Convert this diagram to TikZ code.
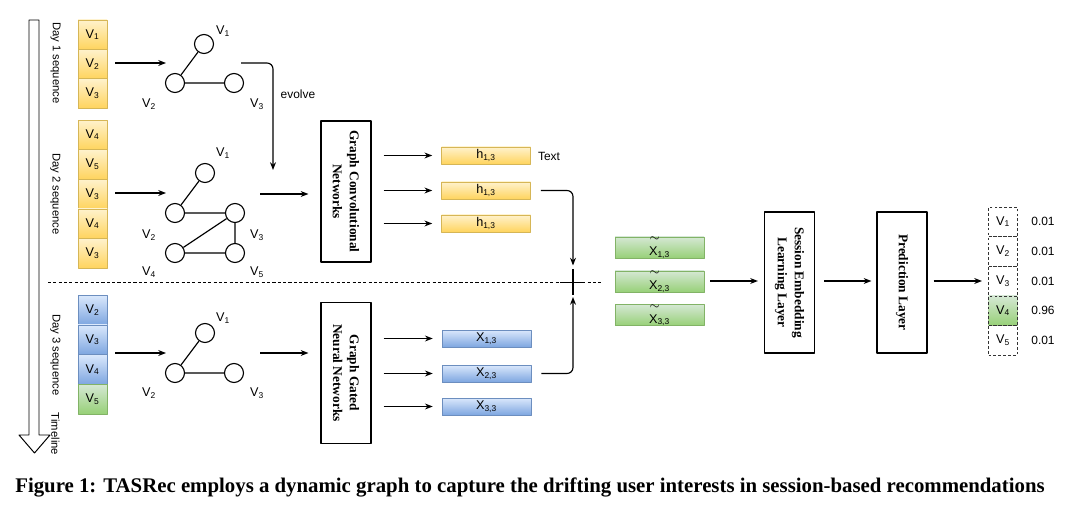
\documentclass[tikz,border=0pt]{standalone}
\usepackage{fontspec}
\setmainfont{Liberation Sans}
\newfontfamily\capfont{Liberation Serif}
\usepackage{xcolor}
\usepackage{tikz}
\usetikzlibrary{arrows.meta,calc}

\newdimen\pxu \pxu=0.025cm
\definecolor{yelT}{HTML}{FFF2CC}
\definecolor{yelB}{HTML}{FFD45E}
\definecolor{yelD}{HTML}{D6B656}
\definecolor{bluT}{HTML}{DAE8FC}
\definecolor{bluB}{HTML}{7EA6E0}
\definecolor{bluD}{HTML}{6C8EBF}
\definecolor{grnT}{HTML}{D5E8D4}
\definecolor{grnB}{HTML}{97D077}
\definecolor{grnD}{HTML}{82B366}
\newcommand{\vv}[1]{V\textsubscript{#1}}
\newcommand{\hh}[1]{h\textsubscript{#1}}
\newcommand{\xx}[1]{X\textsubscript{#1}}
\newcommand{\tx}[1]{\makebox[0pt][l]{\hspace{0.4pt}\raisebox{10pt}{$\sim$}}X\textsubscript{#1}}

\begin{document}
\begin{tikzpicture}[x=0.025cm, y=-0.025cm, >={Stealth[length=5.5pt,width=4.2pt]}, line join=round,
  conn/.style={->, line width=0.8pt},
  cell/.style={draw, minimum width=29\pxu, minimum height=29.5\pxu, inner sep=0pt, font=\fontsize{9}{10}\selectfont},
  ycell/.style={cell, draw=yelD, top color=yelT, bottom color=yelB},
  bcell/.style={cell, draw=bluD, top color=bluT, bottom color=bluB},
  gcell/.style={cell, draw=grnD, top color=grnT, bottom color=grnB},
  ocell/.style={cell, draw=black!80, dash pattern=on 2pt off 1.5pt, minimum height=29.6\pxu},
  bar/.style={draw, minimum width=89\pxu, minimum height=17\pxu, inner sep=0pt, font=\fontsize{9}{10}\selectfont},
  vtx/.style={circle, draw, line width=0.8pt, minimum size=19\pxu, inner sep=0pt},
  vlab/.style={font=\fontsize{9}{10}\selectfont},
  small/.style={font=\fontsize{8.5}{10}\selectfont},
  daylab/.style={rotate=-90, font=\fontsize{8}{9}\selectfont},
  layer/.style={draw, line width=0.8pt, rotate=-90, minimum width=141\pxu, minimum height=50\pxu, align=center, font=\capfont\bfseries\fontsize{9.5}{12}\selectfont}]
  \useasboundingbox (0,0) rectangle (1080,505);

  % timeline
  \draw[line width=0.7pt] (29,20) -- (39,20) -- (39,435) -- (50,435) -- (34.5,453) -- (19,435) -- (29,435) -- cycle;
  \node[daylab] (d1) at (55.5,63) {Day 1 sequence};
  \node[daylab] (d2) at (55.5,194) {Day 2 sequence};
  \node[daylab] (d3) at (55.5,355) {Day 3 sequence};
  \node[daylab] (tl) at (55.5,434) {Timeline};

  % sequences
  \node[ycell] (s1a) at (92.5,34.7) {\vv{1}};
  \node[ycell] (s1b) at (92.5,64) {\vv{2}};
  \node[ycell] (s1c) at (92.5,93.3) {\vv{3}};
  \node[ycell] (s2a) at (92.5,134.8) {\vv{4}};
  \node[ycell] (s2b) at (92.5,164.4) {\vv{5}};
  \node[ycell] (s2c) at (92.5,194) {\vv{3}};
  \node[ycell] (s2d) at (92.5,223.6) {\vv{4}};
  \node[ycell] (s2e) at (92.5,253.2) {\vv{3}};
  \node[bcell] (s3a) at (92.5,309.9) {\vv{2}};
  \node[bcell] (s3b) at (92.5,339.6) {\vv{3}};
  \node[bcell] (s3c) at (92.5,369.4) {\vv{4}};
  \node[gcell] (s3d) at (92.5,399.1) {\vv{5}};

  % graphs
  \node[vtx] (g1a) at (204,44) {};
  \node[vtx] (g1b) at (175,83) {};
  \node[vtx] (g1c) at (234,83) {};
  \draw[line width=0.8pt] (g1a) -- (g1b) -- (g1c);
  \node[vlab] (l1a) at (223,31) {\vv{1}};
  \node[vlab] (l1b) at (149,104) {\vv{2}};
  \node[vlab] (l1c) at (257,104) {\vv{3}};

  \node[vtx] (g2a) at (205,173) {};
  \node[vtx] (g2b) at (175,213) {};
  \node[vtx] (g2c) at (235,213) {};
  \node[vtx] (g2d) at (175,253) {};
  \node[vtx] (g2e) at (235,253) {};
  \draw[line width=0.8pt] (g2a) -- (g2b) -- (g2c) -- (g2d) -- (g2e) -- (g2c);
  \node[vlab] (l2a) at (223,153) {\vv{1}};
  \node[vlab] (l2b) at (149,235) {\vv{2}};
  \node[vlab] (l2c) at (257,235) {\vv{3}};
  \node[vlab] (l2d) at (149,272) {\vv{4}};
  \node[vlab] (l2e) at (257,272) {\vv{5}};

  \node[vtx] (g3a) at (205,333) {};
  \node[vtx] (g3b) at (175,373) {};
  \node[vtx] (g3c) at (234,373) {};
  \draw[line width=0.8pt] (g3a) -- (g3b) -- (g3c);
  \node[vlab] (l3a) at (223,318) {\vv{1}};
  \node[vlab] (l3b) at (149,393) {\vv{2}};
  \node[vlab] (l3c) at (257,393) {\vv{3}};

  % sequence -> graph
  \coordinate (q1s) at (115,63);  \coordinate (q1e) at (166,63);
  \coordinate (q2s) at (115,193); \coordinate (q2e) at (166,193);
  \coordinate (q3s) at (115,353); \coordinate (q3e) at (166,353);
  \draw[conn] (q1s) -- (q1e);
  \draw[conn] (q2s) -- (q2e);
  \draw[conn] (q3s) -- (q3e);

  % evolve
  \coordinate (ev0) at (241,63);
  \coordinate (ev1) at (273,170);
  \draw[conn, rounded corners=6\pxu] (ev0) -- (ev0 -| ev1) -- (ev1);
  \node[small] (evl) at (298,94) {evolve};

  % layers (rotated: north is the right side, south the left side)
  \node[layer] (gcn) at (346,191.5) {Graph Convolutional\\Networks};
  \node[layer] (ggnn) at (346,373) {Graph Gated\\Neural Networks};
  \node[layer] (sel) at (789.5,282.5) {Session Embedding\\Learning Layer};
  \node[layer] (pred) at (902,282.5) {Prediction Layer};

  \coordinate (p1s) at (260,194);
  \coordinate (p2s) at (260,353);
  \draw[conn] (p1s) -- ($(gcn.south |- p1s)+(-12,0)$);
  \draw[conn] (p2s) -- ($(ggnn.south |- p2s)+(-12,0)$);

  % hidden states
  \node[bar, draw=yelD, top color=yelT, bottom color=yelB] (h1) at (486,155.5) {\hh{1,3}};
  \node[bar, draw=yelD, top color=yelT, bottom color=yelB] (h2) at (486,190.5) {\hh{1,3}};
  \node[bar, draw=yelD, top color=yelT, bottom color=yelB] (h3) at (486,223.5) {\hh{1,3}};
  \node[small] (txt) at (549,156) {Text};
  \node[bar, draw=bluD, top color=bluT, bottom color=bluB] (x1) at (486.5,338.5) {\xx{1,3}};
  \node[bar, draw=bluD, top color=bluT, bottom color=bluB] (x2) at (486.5,373.5) {\xx{2,3}};
  \node[bar, draw=bluD, top color=bluT, bottom color=bluB] (x3) at (486.5,406.5) {\xx{3,3}};

  \draw[conn] ($(gcn.north |- h1.west)+(12,0)$) -- ($(h1.west)+(-9,0)$);
  \draw[conn] ($(gcn.north |- h2.west)+(12,0)$) -- ($(h2.west)+(-9,0)$);
  \draw[conn] ($(gcn.north |- h3.west)+(12,0)$) -- ($(h3.west)+(-9,0)$);
  \draw[conn] ($(ggnn.north |- x1.west)+(12,0)$) -- ($(x1.west)+(-9,0)$);
  \draw[conn] ($(ggnn.north |- x2.west)+(12,0)$) -- ($(x2.west)+(-9,0)$);
  \draw[conn] ($(ggnn.north |- x3.west)+(12,0)$) -- ($(x3.west)+(-9,0)$);

  % merge
  \coordinate (jn) at (573,282.5);
  \draw[line width=0.6pt, dash pattern=on 2.2pt off 1.6pt] (48,282.5) -- (602,282.5);
  \draw[line width=0.8pt] ($(jn)+(0,-13.5)$) -- ($(jn)+(0,12.5)$);
  \draw[line width=0.8pt] ($(jn)+(-13,0)$) -- ($(jn)+(12,0)$);
  \draw[conn, rounded corners=6\pxu] ($(h2.east)+(10,0)$) -- (h2.east -| jn) -- ($(jn)+(0,-17)$);
  \draw[conn, rounded corners=6\pxu] ($(x2.east)+(10,0)$) -- (x2.east -| jn) -- ($(jn)+(0,14.5)$);

  % fused states
  \node[bar, draw=grnD, top color=grnT, bottom color=grnB] (t1) at (659.5,247.5) {\tx{1,3}};
  \node[bar, draw=grnD, top color=grnT, bottom color=grnB] (t2) at (659.5,281.5) {\tx{2,3}};
  \node[bar, draw=grnD, top color=grnT, bottom color=grnB] (t3) at (659.5,315) {\tx{3,3}};

  \coordinate (oin) at (982,281);
  \draw[conn] ($(t2.east |- oin)+(6,0)$) -- ($(sel.south |- oin)+(-6,0)$);
  \draw[conn] ($(sel.north |- oin)+(9,0)$) -- ($(pred.south |- oin)+(-5,0)$);
  \draw[conn] ($(pred.north |- oin)+(6,0)$) -- (oin);

  % output
  \node[ocell] (o1) at (1003,221.8) {\vv{1}};
  \node[ocell] (o2) at (1003,251.4) {\vv{2}};
  \node[ocell] (o3) at (1003,281) {\vv{3}};
  \node[ocell, top color=grnT, bottom color=grnB] (o4) at (1003,310.6) {\vv{4}};
  \node[ocell] (o5) at (1003,340.2) {\vv{5}};
  \node[small] (v1) at (1043,221.8) {0.01};
  \node[small] (v2) at (1043,251.4) {0.01};
  \node[small] (v3) at (1043,281) {0.01};
  \node[small] (v4) at (1043,310.6) {0.96};
  \node[small] (v5) at (1043,340.2) {0.01};

  \node[font=\capfont\bfseries\fontsize{14.8}{17}\selectfont] (cap) at (530,487) {Figure 1: TASRec employs a dynamic graph to capture the drifting user interests in session-based recommendations};
\end{tikzpicture}
\end{document}
